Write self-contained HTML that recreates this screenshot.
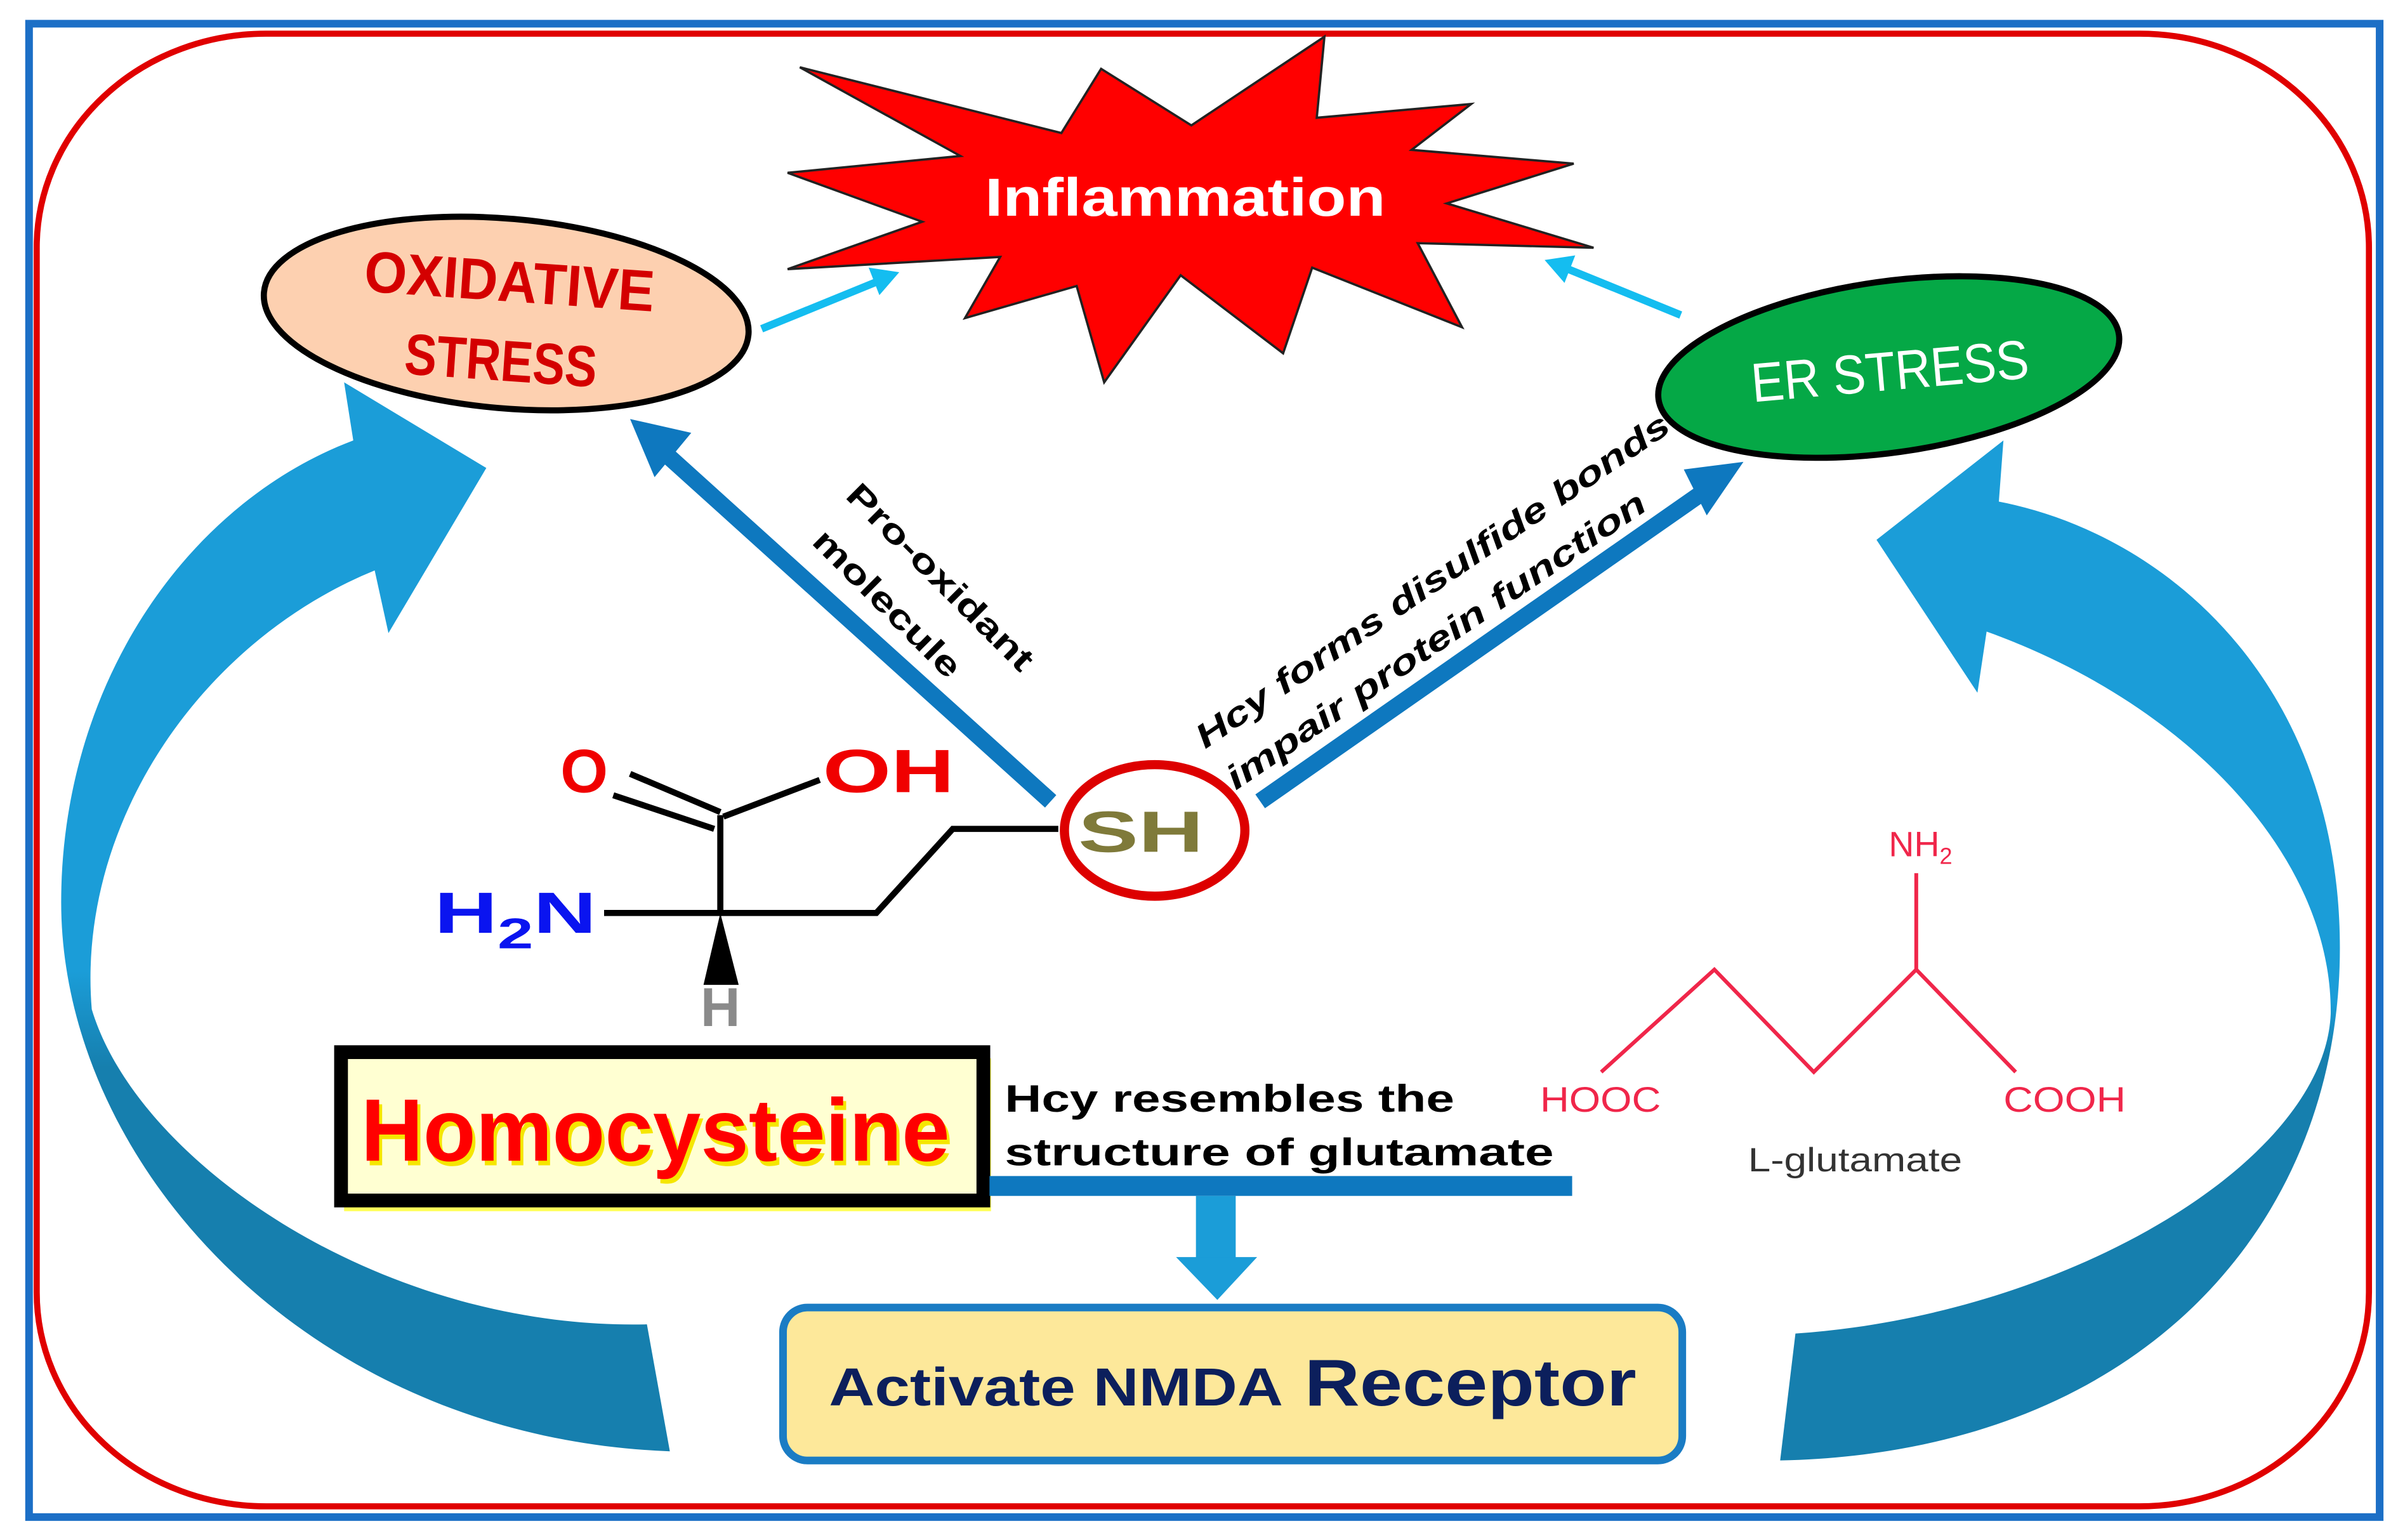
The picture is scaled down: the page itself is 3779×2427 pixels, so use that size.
<!DOCTYPE html>
<html><head><meta charset="utf-8"><style>
html,body{margin:0;padding:0;background:#fff;}
svg{display:block;}
text{font-family:"Liberation Sans",sans-serif;}
</style></head><body>
<svg width="3779" height="2427" viewBox="0 0 1568 1007" preserveAspectRatio="none" xmlns="http://www.w3.org/2000/svg">
<defs>
<linearGradient id="gl" gradientUnits="userSpaceOnUse" x1="0" y1="250" x2="0" y2="950">
<stop offset="0" stop-color="#1b9dd8"/><stop offset="0.55" stop-color="#1b9dd8"/><stop offset="0.64" stop-color="#167fae"/><stop offset="1" stop-color="#167fae"/></linearGradient>
<linearGradient id="gr" gradientUnits="userSpaceOnUse" x1="0" y1="290" x2="0" y2="955">
<stop offset="0" stop-color="#1b9dd8"/><stop offset="0.55" stop-color="#1b9dd8"/><stop offset="0.6" stop-color="#167fae"/><stop offset="1" stop-color="#167fae"/></linearGradient>
</defs>
<rect x="0" y="0" width="1568" height="1007" fill="#fff"/>
<rect x="19" y="15.5" width="1537" height="976.5" fill="none" stroke="#1c6fc6" stroke-width="5"/>
<rect x="24" y="22" width="1525" height="963" rx="150" ry="140" fill="#fff" stroke="#e00000" stroke-width="4"/>

<path d="M231,288 C120,330 40,450 40,590 C40,760 200,940 438,949 L423,866 C250,870 90,760 60,660 C50,540 130,420 245,373 L254,414 L318,306 L225,250 Z" fill="url(#gl)"/>
<path d="M1307,328 C1420,350 1530,450 1530,620 C1530,800 1400,950 1164,955 L1174,872 C1350,860 1520,760 1524,663 C1525,560 1430,460 1299,413 L1293,453 L1227,353 L1310,288 Z" fill="url(#gr)"/>

<polygon points="523,44 694,87 720,45 779,82 866,24 861,77 962,68 923,98 1029,107 946,133 1042,162 927,159 956,214 858,175 839,231 772,180 722,250 704,187 631,208 654,168 515,176 603,145 515,113 628,102" fill="#ff0000" stroke="#222" stroke-width="1.5" stroke-linejoin="miter"/>
<text x="775" y="141" text-anchor="middle" font-size="35" font-weight="bold" fill="#fff" textLength="262" lengthAdjust="spacingAndGlyphs">Inflammation</text>

<ellipse cx="331" cy="205" rx="159" ry="62" transform="rotate(5 331 205)" fill="#fdd0b0" stroke="#000" stroke-width="4"/>
<g transform="rotate(4 331 215)" fill="#d40000" font-weight="bold">
<text x="331" y="197" text-anchor="middle" font-size="38" textLength="190" lengthAdjust="spacingAndGlyphs">OXIDATIVE</text>
<text x="329" y="249" text-anchor="middle" font-size="38" textLength="126" lengthAdjust="spacingAndGlyphs">STRESS</text>
</g>

<ellipse cx="1235" cy="240" rx="152" ry="56" transform="rotate(-8 1235 240)" fill="#05a846" stroke="#000" stroke-width="4"/>
<text x="1236" y="255" text-anchor="middle" font-size="36" fill="#fff" transform="rotate(-5 1236 245)" textLength="182" lengthAdjust="spacingAndGlyphs">ER STRESS</text>

<line x1="498" y1="215" x2="574" y2="184" stroke="#14bdf0" stroke-width="5"/>
<polygon points="588,178 568,175 575,193" fill="#14bdf0"/>
<line x1="1099" y1="206" x2="1023" y2="175" stroke="#14bdf0" stroke-width="5"/>
<polygon points="1010,170 1030,167 1023,185" fill="#14bdf0"/>

<line x1="687" y1="524" x2="430" y2="292" stroke="#0e78bf" stroke-width="11"/>
<polygon points="412,274 452,283 428,312" fill="#0e78bf"/>
<line x1="824" y1="524" x2="1122" y2="316" stroke="#0e78bf" stroke-width="11"/>
<polygon points="1140,302 1116,337 1101,307" fill="#0e78bf"/>

<g font-weight="bold" font-size="22" fill="#000">
<text transform="translate(552,325) rotate(45)" textLength="163" lengthAdjust="spacingAndGlyphs">Pro-oxidant</text>
<text transform="translate(530,355) rotate(45)" textLength="127" lengthAdjust="spacingAndGlyphs">molecule</text>
<text transform="translate(788,490) rotate(-34.3)" font-style="italic" textLength="370" lengthAdjust="spacingAndGlyphs">Hcy forms disulfide bonds</text>
<text transform="translate(808,517) rotate(-34.3)" font-style="italic" textLength="327" lengthAdjust="spacingAndGlyphs">impair protein function</text>
</g>

<g stroke="#000" stroke-width="4" fill="none" stroke-linejoin="miter">
<line x1="395" y1="597" x2="472" y2="597"/>
<line x1="471" y1="597" x2="471" y2="533"/>
<line x1="412" y1="506" x2="471" y2="531"/>
<line x1="401" y1="520" x2="467" y2="542"/>
<line x1="473" y1="534" x2="536" y2="510"/>
<polyline points="471,597 573,597 623,542 692,542"/>
</g>
<polygon points="471,597 460,644 483,644" fill="#000"/>
<text x="382" y="518" text-anchor="middle" font-size="40" font-weight="bold" fill="#f00000">O</text>
<text x="538" y="518" font-size="40" font-weight="bold" fill="#f00000" textLength="86" lengthAdjust="spacingAndGlyphs">OH</text>
<text x="284" y="610" font-size="38" font-weight="bold" fill="#0a14f0" textLength="106" lengthAdjust="spacingAndGlyphs">H<tspan font-size="28" dy="10">2</tspan><tspan dy="-10">N</tspan></text>
<text x="471" y="671" text-anchor="middle" font-size="36" font-weight="bold" fill="#8a8a8a">H</text>
<ellipse cx="755" cy="543" rx="59" ry="43" fill="none" stroke="#dd0000" stroke-width="6"/>
<text x="705" y="557" font-size="38" font-weight="bold" fill="#7f7a3a" textLength="82" lengthAdjust="spacingAndGlyphs">SH</text>

<rect x="225" y="692" width="423" height="100" fill="#ffff30" opacity="0.8"/>
<rect x="223" y="688" width="420" height="97" fill="#ffffd2" stroke="#000" stroke-width="9"/>
<text x="238" y="762" font-size="58" font-weight="bold" fill="#f5e600" textLength="385" lengthAdjust="spacingAndGlyphs">Homocysteine</text>
<text x="236" y="759" font-size="58" font-weight="bold" fill="#ff0000" textLength="385" lengthAdjust="spacingAndGlyphs">Homocysteine</text>

<text x="657" y="727" font-size="25" font-weight="bold" fill="#000" textLength="294" lengthAdjust="spacingAndGlyphs">Hcy resembles the</text>
<text x="657" y="762" font-size="25" font-weight="bold" fill="#000" textLength="359" lengthAdjust="spacingAndGlyphs">structure of glutamate</text>
<rect x="647" y="769" width="381" height="13" fill="#0e78bf"/>
<rect x="782" y="782" width="26" height="41" fill="#1b9dd8"/>
<polygon points="769,822 822,822 796,850" fill="#1b9dd8"/>

<rect x="512" y="855" width="588" height="100" rx="16" ry="16" fill="#fde89a" stroke="#1a7cc4" stroke-width="5"/>
<text x="542" y="919" font-size="35" font-weight="bold" fill="#0c1f5c" textLength="297" lengthAdjust="spacingAndGlyphs">Activate NMDA</text>
<text x="853" y="919" font-size="43" font-weight="bold" fill="#0c1f5c" textLength="217" lengthAdjust="spacingAndGlyphs">Receptor</text>

<g stroke="#f0264a" stroke-width="2.5" fill="none">
<polyline points="1047,701 1121,634 1186,701 1253,634 1318,701"/>
<line x1="1253" y1="634" x2="1253" y2="571"/>
</g>
<g fill="#f0264a" font-size="23">
<text x="1235" y="560">NH<tspan font-size="15" dy="5">2</tspan></text>
<text x="1007" y="727" textLength="79" lengthAdjust="spacingAndGlyphs">HOOC</text>
<text x="1310" y="727" textLength="80" lengthAdjust="spacingAndGlyphs">COOH</text>
</g>
<text x="1143" y="766" font-size="22" fill="#333" textLength="140" lengthAdjust="spacingAndGlyphs">L-glutamate</text>
</svg>
</body></html>
